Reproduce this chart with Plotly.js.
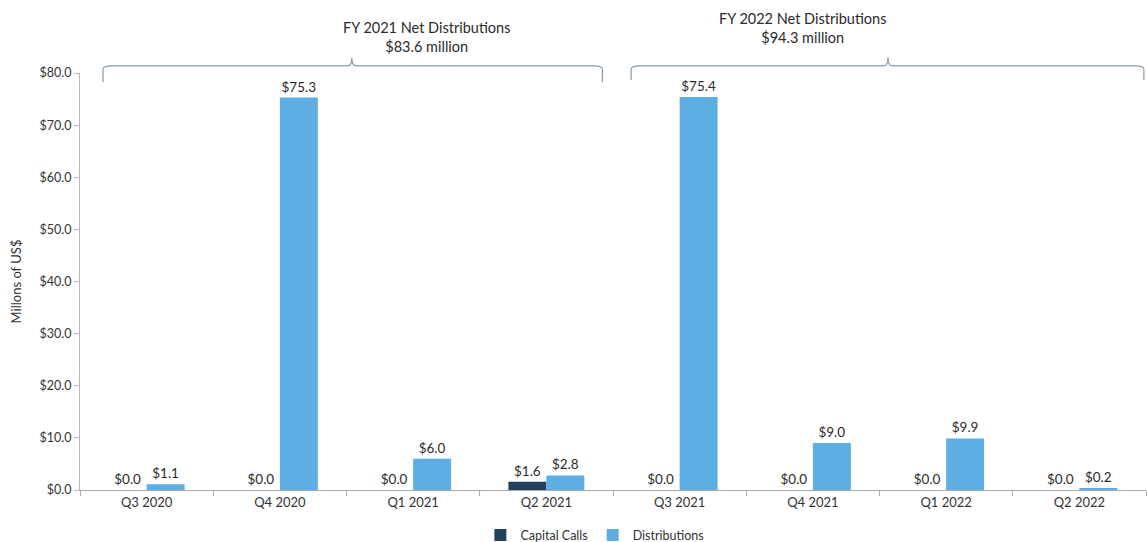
<!DOCTYPE html><html><head><script src="https://cdn.plot.ly/plotly-3.0.1.min.js"></script></head><body style="margin:0"><div id="c" style="width:1147px;height:542px"></div><script>
var categories=["Q3 2020","Q4 2020","Q1 2021","Q2 2021","Q3 2021","Q4 2021","Q1 2022","Q2 2022"];
var capitalCalls=[0.0,0.0,0.0,1.6,0.0,0.0,0.0,0.0];
var distributions=[1.1,75.3,6.0,2.8,75.4,9.0,9.9,0.2];
var font="Lato, 'Open Sans', sans-serif";
function lbl(v){return v.map(function(x){return "$"+x.toFixed(1);});}
var traces=[
{type:"bar",name:"Capital Calls",x:categories,y:capitalCalls,marker:{color:"#23405c"},text:lbl(capitalCalls),textposition:"outside",cliponaxis:false,textfont:{color:"#2b2b2b",size:13.5,family:font}},
{type:"bar",name:"Distributions",x:categories,y:distributions,marker:{color:"#5caee3"},text:lbl(distributions),textposition:"outside",cliponaxis:false,textfont:{color:"#2b2b2b",size:13.5,family:font}}
];
var layout={width:1147,height:542,margin:{l:80,r:1,t:73,b:52},paper_bgcolor:"#fff",plot_bgcolor:"#fff",
font:{family:font,color:"#333",size:12},barmode:"group",bargap:0.43,bargroupgap:0,showlegend:true,
legend:{orientation:"h",x:0.483,xanchor:"center",yref:"container",y:0.012,yanchor:"middle",font:{size:12.5,color:"#333"},itemwidth:30,tracegroupgap:0},
xaxis:{type:"category",automargin:false,showline:true,linecolor:"#aaa",ticks:"outside",tickson:"boundaries",ticklen:5,tickcolor:"#aaa",showgrid:false,tickfont:{size:13}},
yaxis:{range:[0,80],automargin:false,dtick:10,tickprefix:"$",tickformat:".1f",showgrid:false,showline:true,linecolor:"#bbb",ticks:"outside",ticklen:5,tickcolor:"#bbb",zeroline:false,tickfont:{size:12.5},title:{text:"Millons of US$",font:{size:13},standoff:14}},
shapes:[
{type:"path",xref:"paper",yref:"paper",path:"M 0.0216 0.978 L 0.0216 1.009 Q 0.0216 1.017 0.03 1.017 L 0.251 1.017 Q 0.255 1.017 0.255 1.036 Q 0.255 1.017 0.259 1.017 L 0.482 1.017 Q 0.49 1.017 0.49 1.009 L 0.49 0.978",line:{color:"#8a9aa8",width:1.2}},
{type:"path",xref:"paper",yref:"paper",path:"M 0.517 0.983 L 0.517 1.009 Q 0.517 1.017 0.525 1.017 L 0.754 1.017 Q 0.758 1.017 0.758 1.038 Q 0.758 1.017 0.762 1.017 L 0.99 1.017 Q 0.998 1.017 0.998 1.009 L 0.998 0.983",line:{color:"#8a9aa8",width:1.2}}
],
annotations:[
{xref:"paper",yref:"paper",x:0.245,y:1.086,yanchor:"middle",text:"FY 2021 Net Distributions<br>$83.6 million",showarrow:false,font:{size:14.5,color:"#2b2b2b"}},
{xref:"paper",yref:"paper",x:0.758,y:1.108,yanchor:"middle",text:"FY 2022 Net Distributions<br>$94.3 million",showarrow:false,font:{size:14.5,color:"#2b2b2b"}}
]};
Plotly.newPlot("c",traces,layout,{displayModeBar:false});
</script></body></html>
